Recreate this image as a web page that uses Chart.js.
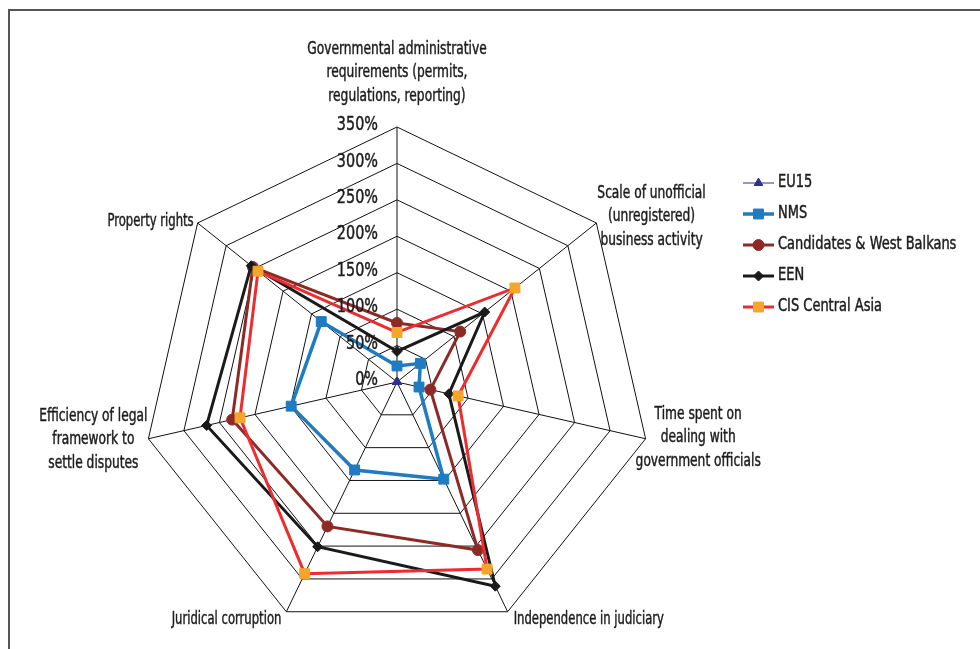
<!DOCTYPE html>
<html><head><meta charset="utf-8">
<script src="https://cdn.jsdelivr.net/npm/chart.js@4.4.1/dist/chart.umd.min.js"></script>
<style>
html,body{margin:0;padding:0;background:#fff;}
#wrap{position:relative;width:980px;height:649px;overflow:hidden;}
#frame{position:absolute;left:8px;top:9px;width:1000px;height:700px;border-left:2px solid #555;border-top:2px solid #555;}
canvas{position:absolute;left:0;top:0;}
</style></head><body>
<div id="wrap"><div id="frame"></div><canvas id="c" width="980" height="649"></canvas></div>
<script>
// ---- data ----
const categories = [
  ["Governmental administrative", "requirements (permits,", "regulations, reporting)"],
  ["Scale of unofficial", "(unregistered)", "business activity"],
  ["Time spent on", "dealing with", "government officials"],
  ["Independence in judiciary"],
  ["Juridical corruption"],
  ["Efficiency of legal", "framework to", "settle disputes"],
  ["Property rights"]
];
const seriesNames = ["EU15", "NMS", "Candidates & West Balkans", "EEN", "CIS Central Asia"];
const eu15 = [0, 0, 0, 0, 0, 0, 0];
const nms = [22, 41, 31, 148, 134, 149, 133];
const candidates = [81, 111, 47, 256, 220, 232, 253];
const een = [42, 154, 73, 311, 251, 268, 256];
const cisCentralAsia = [68, 207, 86, 285, 292, 221, 244];
const tickValues = [0, 50, 100, 150, 200, 250, 300, 350];

// ---- styling / layout ----
const FONT = '"Liberation Sans Narrow", "DejaVu Sans Condensed", "Arial Narrow", sans-serif';
const TEXT = '#1c1c1c';
const labelLayout = [
  {mode: 'c', dx: 0, dy: -54},
  {mode: 'l', dx: 1, dy: -6},
  {mode: 'l', dx: -10, dy: -1},
  {mode: 'l', dx: 6, dy: 8},
  {mode: 'r', dx: -5, dy: 8},
  {mode: 'r', dx: -1, dy: 1},
  {mode: 'r', dx: -4, dy: -1}
];

const styles = [
  {color: '#2E3192', marker: '#2E3192', width: 1, style: 'triangle', r: 5, order: 4},
  {color: '#1F7BC2', marker: '#1F7BC2', width: 3.5, style: 'rect', r: 7, order: 3},
  {color: '#8E2A25', marker: '#8E2A25', width: 3, style: 'circle', r: 5.5, order: 2},
  {color: '#1A1A1A', marker: '#1A1A1A', width: 3, style: 'rectRot', r: 5, order: 1},
  {color: '#EE2B2E', marker: '#F5A52A', width: 3, style: 'rect', r: 7, order: 0}
];
const seriesData = [eu15, nms, candidates, een, cisCentralAsia];

const datasets = seriesNames.map((name, i) => ({
  label: name,
  data: seriesData[i],
  borderColor: styles[i].color,
  borderWidth: styles[i].width,
  backgroundColor: styles[i].marker,
  pointBackgroundColor: styles[i].marker,
  pointBorderColor: styles[i].marker,
  pointBorderWidth: 1,
  pointStyle: styles[i].style,
  pointRadius: styles[i].r,
  pointHoverRadius: styles[i].r,
  fill: false,
  tension: 0,
  order: styles[i].order
}));

function narrowText(ctx, t, x, y, align, sx) {
  const w = ctx.measureText(t).width * sx;
  let left = x;
  if (align === 'center') left = x - w / 2;
  else if (align === 'right') left = x - w;
  ctx.save();
  ctx.translate(left, y);
  ctx.scale(sx, 1);
  ctx.textAlign = 'left';
  ctx.lineWidth = 0.45;
  ctx.strokeStyle = ctx.fillStyle;
  ctx.fillText(t, 0, 0);
  ctx.strokeText(t, 0, 0);
  ctx.restore();
}

const overlay = {
  id: 'overlay',
  afterDraw(chart) {
    const ctx = chart.ctx;
    const s = chart.scales.r;
    ctx.save();
    ctx.textBaseline = 'middle';
    // tick labels
    ctx.fillStyle = TEXT;
    ctx.font = '20px ' + FONT;
    tickValues.forEach(v => {
      const y = s.yCenter - s.getDistanceFromCenterForValue(v);
      narrowText(ctx, v + '%', s.xCenter - 19, y - 2, 'right', 0.8);
    });
    // point labels
    ctx.font = '17px ' + FONT;
    const lh = 23.5;
    categories.forEach((lines, i) => {
      const p = s.getPointPosition(i, s.drawingArea);
      const L = labelLayout[i];
      const sx = lines.length === 1 ? 0.76 : 0.8;
      const bw = Math.max(...lines.map(t => ctx.measureText(t).width * sx));
      let cx;
      if (L.mode === 'c') cx = p.x + L.dx;
      else if (L.mode === 'l') cx = p.x + L.dx + bw / 2;
      else cx = p.x + L.dx - bw / 2;
      const cy = p.y + L.dy;
      const y0 = cy - (lines.length - 1) * lh / 2;
      lines.forEach((t, k) => narrowText(ctx, t, cx, y0 + k * lh, 'center', sx));
    });
    // legend
    const lx = 743, ly = 183, step = 31;
    ctx.font = '17px ' + FONT;
    chart.data.datasets.forEach((d, i) => {
      const y = ly + i * step;
      ctx.strokeStyle = d.borderColor;
      ctx.lineWidth = d.borderWidth;
      ctx.beginPath();
      ctx.moveTo(lx, y);
      ctx.lineTo(lx + 31, y);
      ctx.stroke();
      ctx.fillStyle = d.pointBackgroundColor;
      ctx.strokeStyle = d.pointBorderColor;
      ctx.lineWidth = 1;
      Chart.helpers.drawPoint(ctx, {pointStyle: d.pointStyle, radius: d.pointRadius, rotation: 0, borderWidth: 1}, lx + 15.5, y);
      ctx.fillStyle = TEXT;
      narrowText(ctx, d.label, lx + 35, y, 'left', 0.85);
    });
    ctx.restore();
  }
};

new Chart(document.getElementById('c'), {
  type: 'radar',
  data: {labels: categories.map(c => c.join(' ')), datasets},
  options: {
    responsive: false,
    animation: false,
    layout: {padding: {left: 142, top: 127, right: 328, bottom: 12}},
    plugins: {legend: {display: false}, tooltip: {enabled: false}, title: {display: false}},
    elements: {line: {tension: 0}},
    scales: {
      r: {
        min: 0, max: 350,
        ticks: {display: false, stepSize: 50},
        pointLabels: {display: false},
        grid: {color: '#111', lineWidth: 1, circular: false},
        angleLines: {color: '#111', lineWidth: 1}
      }
    }
  },
  plugins: [overlay]
});
</script>
</body></html>
